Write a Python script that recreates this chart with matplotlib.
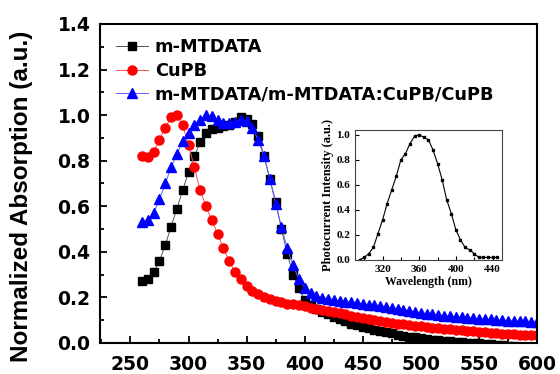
import numpy as np
import matplotlib
matplotlib.use('Agg')
import matplotlib.pyplot as plt
from matplotlib.ticker import MultipleLocator, FormatStrFormatter

plt.rcParams['font.family'] = ['Liberation Sans', 'DejaVu Sans']
plt.rcParams['font.weight'] = 'bold'

# 吸収スペクトル (5 nm 刻み, 260-600 nm)
wavelength = np.arange(260, 601, 5)

mtdata = [0.27, 0.28, 0.31, 0.36, 0.43, 0.51, 0.59, 0.67, 0.75, 0.82,
          0.88, 0.92, 0.94, 0.945, 0.95, 0.955, 0.97, 0.99, 0.985, 0.96,
          0.91, 0.82, 0.72, 0.62, 0.50, 0.39, 0.30, 0.24, 0.19, 0.165,
          0.15, 0.135, 0.125, 0.115, 0.105, 0.095, 0.085, 0.078, 0.07, 0.064,
          0.058, 0.052, 0.047, 0.042, 0.037, 0.032, 0.028, 0.024, 0.02, 0.017,
          0.014, 0.011, 0.009, 0.007, 0.005, 0.003, 0.001, 0.0, -0.002, -0.004,
          -0.006, -0.008, -0.01, -0.012, -0.014, -0.016, -0.018, -0.02, -0.022]

cupb = [0.82, 0.815, 0.84, 0.89, 0.945, 0.99, 1.0, 0.955, 0.87, 0.77,
        0.67, 0.60, 0.54, 0.48, 0.415, 0.36, 0.31, 0.28, 0.25, 0.23,
        0.215, 0.203, 0.193, 0.186, 0.179, 0.172, 0.17, 0.165, 0.16, 0.155,
        0.15, 0.145, 0.14, 0.135, 0.13, 0.125, 0.118, 0.113, 0.108, 0.104,
        0.1, 0.096, 0.092, 0.088, 0.085, 0.082, 0.079, 0.076, 0.073, 0.07,
        0.067, 0.065, 0.062, 0.06, 0.058, 0.056, 0.053, 0.051, 0.049, 0.047,
        0.045, 0.043, 0.041, 0.04, 0.038, 0.037, 0.036, 0.035, 0.034]

stack = [0.53, 0.54, 0.57, 0.63, 0.70, 0.77, 0.83, 0.885, 0.92, 0.955,
         0.98, 1.0, 0.995, 0.98, 0.967, 0.964, 0.97, 0.978, 0.975, 0.945,
         0.89, 0.82, 0.72, 0.61, 0.51, 0.415, 0.34, 0.28, 0.24, 0.218,
         0.205, 0.197, 0.191, 0.187, 0.184, 0.181, 0.178, 0.175, 0.172, 0.168,
         0.165, 0.161, 0.158, 0.154, 0.15, 0.146, 0.142, 0.137, 0.132, 0.129,
         0.126, 0.123, 0.12, 0.117, 0.115, 0.113, 0.111, 0.109, 0.107, 0.105,
         0.103, 0.101, 0.099, 0.098, 0.097, 0.096, 0.095, 0.094, 0.093]

labels = ['m-MTDATA', 'CuPB', 'm-MTDATA/m-MTDATA:CuPB/CuPB']

# 光電流スペクトル (インセット)
pc_wavelength = np.arange(295, 446, 5)
pc_intensity = [0.0, 0.02, 0.05, 0.10, 0.21, 0.32, 0.45, 0.56, 0.67, 0.80,
                0.85, 0.93, 0.99, 1.0, 0.98, 0.96, 0.88, 0.77, 0.64, 0.48,
                0.37, 0.24, 0.16, 0.10, 0.08, 0.05, 0.02, 0.02, 0.02, 0.02,
                0.02]

wide = ['DejaVu Sans']
serif = ['Liberation Serif', 'DejaVu Serif']

fig = plt.figure(figsize=(5.6, 3.74), dpi=100)
ax = fig.add_axes([0.179, 0.083, 0.78, 0.853])

ax.plot(wavelength, mtdata, color='#555555', lw=0.7, marker='s', ms=6.2,
        mfc='black', mec='black', label=labels[0])
ax.plot(wavelength, cupb, color='#ff5050', lw=0.7, marker='o', ms=6.5,
        mfc='red', mec='red', label=labels[1])
ax.plot(wavelength, stack, color='#6060ff', lw=0.7, marker='^', ms=7,
        mfc='blue', mec='blue', label=labels[2])

ax.set_xlim(224, 600)
ax.set_ylim(0, 1.4)
ax.xaxis.set_major_locator(MultipleLocator(50))
ax.xaxis.set_minor_locator(MultipleLocator(25))
ax.yaxis.set_major_locator(MultipleLocator(0.2))
ax.yaxis.set_minor_locator(MultipleLocator(0.1))
ax.yaxis.set_major_formatter(FormatStrFormatter('%.1f'))
ax.tick_params(which='both', direction='in', width=1.3)
ax.tick_params(which='major', length=5)
ax.tick_params(which='minor', length=3)
ax.tick_params(axis='x', pad=8.5)
ax.tick_params(axis='y', pad=7)
for t in ax.get_xticklabels() + ax.get_yticklabels():
    t.set_family(wide)
    t.set_weight('bold')
    t.set_size(13.5)
for s in ax.spines.values():
    s.set_linewidth(1.5)
ax.set_ylabel('Normalized Absorption (a.u.)', fontsize=17.5, fontweight='bold')
ax.yaxis.set_label_coords(-0.153, 0.46)

ax.legend(loc='upper left', bbox_to_anchor=(0.035, 0.955), frameon=False,
          borderpad=0, borderaxespad=0, handlelength=1.8, handletextpad=0.4,
          labelspacing=0.32, prop={'family': wide, 'size': 12.8, 'weight': 'bold'})

# インセット
ins = fig.add_axes([0.634, 0.305, 0.262, 0.348])
ins.plot(pc_wavelength, pc_intensity, color='black', lw=0.8, marker='s', ms=2)
ins.set_xlim(290, 450)
ins.set_ylim(0, 1.04)
ins.xaxis.set_major_locator(MultipleLocator(40))
ins.xaxis.set_minor_locator(MultipleLocator(20))
ins.yaxis.set_major_locator(MultipleLocator(0.2))
ins.yaxis.set_major_formatter(FormatStrFormatter('%.1f'))
ins.tick_params(which='both', direction='in', width=0.8)
ins.tick_params(which='major', length=3)
ins.tick_params(which='minor', length=2)
ins.tick_params(axis='x', pad=4)
for t in ins.get_xticklabels() + ins.get_yticklabels():
    t.set_family(serif)
    t.set_weight('bold')
    t.set_size(8)
for s in ins.spines.values():
    s.set_linewidth(0.8)
    s.set_color('#444444')
ins.set_xlabel('Wavelength (nm)', fontsize=8.5, fontweight='bold',
               family=serif, labelpad=1)
ins.set_ylabel('Photocurrent Intensity (a.u.)', fontsize=9, fontweight='bold',
               family=serif, labelpad=2)

plt.savefig('out.png', dpi=100)
plt.close()
